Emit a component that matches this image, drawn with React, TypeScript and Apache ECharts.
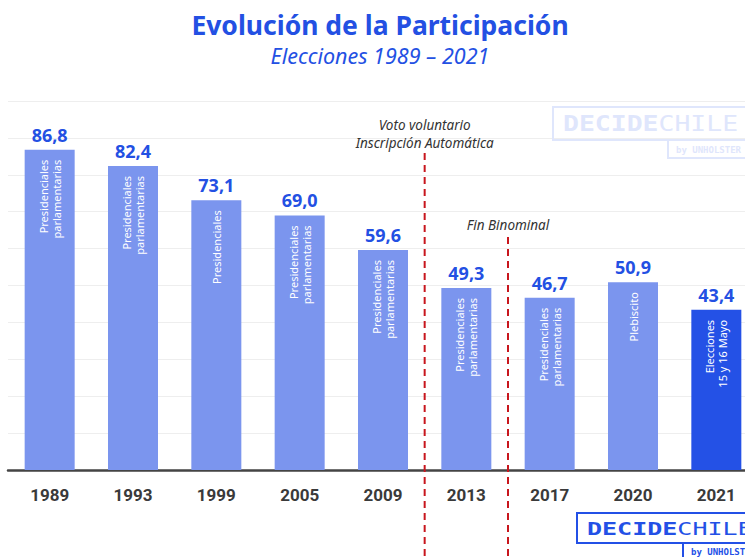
import React, { useEffect, useRef } from "react";
import * as echarts from "echarts";

const years = ["1989", "1993", "1999", "2005", "2009", "2013", "2017", "2020", "2021"];
const participation = [86.8, 82.4, 73.1, 69.0, 59.6, 49.3, 46.7, 50.9, 43.4];
const barTypes = [
  "Presidenciales\nparlamentarias",
  "Presidenciales\nparlamentarias",
  "Presidenciales",
  "Presidenciales\nparlamentarias",
  "Presidenciales\nparlamentarias",
  "Presidenciales\nparlamentarias",
  "Presidenciales\nparlamentarias",
  "Plebiscito",
  "Elecciones\n15 y 16 Mayo",
];
const highlightYear = "2021";
const yTicks = { min: 0, max: 100, interval: 10 };

const BLUE = "#2350e3";
const LIGHT = "#7b95ee";
const FONT = "'Noto Sans', 'Open Sans', sans-serif";
const AXISFONT = "Roboto, 'Noto Sans', sans-serif";
const MONO = "'DejaVu Sans Mono', monospace";

function watermark(
  x: number, y: number, w: number, h: number,
  byX: number, byW: number, byH: number,
  color: string, fontSize: number, scaleX: number
) {
  return [
    { type: "rect", shape: { x, y, width: w, height: h }, style: { fill: "none", stroke: color, lineWidth: 2 }, z: 10 },
    { type: "rect", shape: { x: byX, y: y + h, width: byW, height: byH }, style: { fill: "none", stroke: color, lineWidth: 2 }, z: 10 },
    {
      type: "text", x: x + 10, y: y + h / 2 + 1, scaleX, z: 11,
      style: {
        text: "{b|DECIDE}{l|CHILE}", verticalAlign: "middle",
        rich: {
          b: { fontFamily: MONO, fontWeight: "bold", fontSize, fill: color },
          l: { fontFamily: MONO, fontWeight: "normal", fontSize, fill: color },
        },
      },
    },
    {
      type: "text", x: byX + 8, y: y + h + byH / 2 + 1, z: 11,
      style: { text: "by UNHOLSTER", fontFamily: MONO, fontWeight: "bold", fontSize: 9, fill: color, verticalAlign: "middle" },
    },
  ];
}

export default function App() {
  const ref = useRef<HTMLDivElement>(null);
  useEffect(() => {
    const el = ref.current!;
    const chart = echarts.init(el, null, { renderer: "svg" });
    const option: any = {
      animation: false,
      backgroundColor: "#ffffff",
      title: {
        text: "Evolución de la Participación",
        subtext: "Elecciones 1989 – 2021",
        left: 375,
        textAlign: "center",
        top: 6,
        itemGap: 6,
        textStyle: { fontFamily: FONT, fontWeight: "bold", fontSize: 26.5, color: BLUE },
        subtextStyle: { fontFamily: FONT, fontStyle: "italic", fontSize: 21.5, color: BLUE },
      },
      grid: { left: 8, right: 0, top: 101, bottom: 87, containLabel: false },
      xAxis: {
        type: "category",
        data: years,
        axisTick: { show: false },
        axisLine: { lineStyle: { color: "#444", width: 2.5 } },
        axisLabel: { fontFamily: AXISFONT, fontWeight: "bold", fontSize: 17, color: "#3a3a3a", margin: 16 },
      },
      yAxis: {
        type: "value",
        min: yTicks.min,
        max: yTicks.max,
        interval: yTicks.interval,
        axisLabel: { show: false },
        axisLine: { show: false },
        axisTick: { show: false },
        splitLine: { lineStyle: { color: "#eeeeee", width: 1 } },
      },
      series: [
        {
          type: "bar",
          barWidth: "60%",
          data: participation.map((v, i) => ({
            value: v,
            itemStyle: { color: years[i] === highlightYear ? "#2451e6" : LIGHT },
            label: {
              show: true,
              position: "insideTop",
              rotate: 90,
              align: "right",
              verticalAlign: "middle",
              distance: 10,
              formatter: barTypes[i],
              color: "#ffffff",
              fontFamily: FONT,
              fontSize: 11,
              lineHeight: 13,
            },
          })),
        },
        {
          type: "bar",
          barGap: "-100%",
          barWidth: "60%",
          silent: true,
          itemStyle: { color: "transparent" },
          data: participation,
          label: {
            show: true,
            position: "top",
            distance: 6,
            formatter: (p: any) => Number(p.value).toFixed(1).replace(".", ","),
            color: BLUE,
            fontFamily: FONT,
            fontWeight: "bold",
            fontSize: 18,
          },
        },
      ],
    };
    chart.setOption(option);

    const cx = (i: number) => chart.convertToPixel({ xAxisIndex: 0 }, i) as number;
    const m1 = (cx(4) + cx(5)) / 2;
    const m2 = (cx(5) + cx(6)) / 2;
    const annot = (x: number, y: number, text: string) => ({
      type: "text", x, y, z: 12,
      style: {
        text, align: "center", verticalAlign: "middle",
        fontFamily: FONT, fontStyle: "italic", fontSize: 13.5, fill: "#333",
      },
    });
    const dash = (x: number, y1: number) => ({
      type: "line", z: 12,
      shape: { x1: x, y1, x2: x, y2: 557 },
      style: { stroke: "#c8161d", lineWidth: 2, lineDash: [7, 5] },
    });
    chart.setOption({
      graphic: [
        dash(m1, 153),
        dash(m2, 237),
        annot(m1, 125, "Voto voluntario"),
        annot(m1, 143, "Inscripción Automática"),
        annot(m2, 225, "Fin Binominal"),
        ...watermark(553, 107, 210, 33, 668, 100, 18, "#dfe6fc", 20.5, 1.29),
        ...watermark(577, 513, 190, 30, 683, 90, 16, "#2350e6", 18, 1.39),
      ],
    });
    return () => chart.dispose();
  }, []);
  return (
    <div style={{ position: "fixed", left: 0, top: 0, width: 745, height: 557, overflow: "hidden" }}>
      <div ref={ref} style={{ position: "absolute", left: 0, top: 0, width: 758, height: 557 }} />
    </div>
  );
}
